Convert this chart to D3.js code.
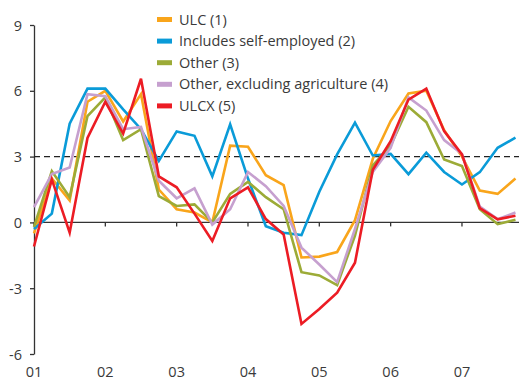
<!DOCTYPE html>
<html>
<head>
<meta charset="utf-8">
<script src="https://cdn.jsdelivr.net/npm/d3@7"></script>
<style>
  html, body { margin: 0; padding: 0; background: #fff; }
  svg { display: block; }
  text { font-family: "Open Sans", "Noto Sans", sans-serif; fill: #3a3a3a; }
</style>
</head>
<body>
<svg id="chart" width="519" height="381"></svg>
<script>
// Quarterly wage-cost growth, 2001Q1 - 2007Q4 (per cent)
const quarters = d3.range(28).map(i => 2001 + i / 4);
const yearTicks = [2001, 2002, 2003, 2004, 2005, 2006, 2007];
const yearLabels = ["01", "02", "03", "04", "05", "06", "07"];
const yTicks = [-6, -3, 0, 3, 6, 9];
const yTickLabels = ["-6", "-3", "0", "3", "6", "9"];

const seriesNames = ["ULC (1)", "Includes self-employed (2)", "Other (3)", "Other, excluding agriculture (4)", "ULCX (5)"];
const seriesColors = ["#F9A51B", "#0A9BD8", "#9CAB37", "#C6A0CF", "#EC1C24"];

const ulc = [-0.5, 2.0, 1.0, 5.5, 6.0, 4.6, 5.85, 1.5, 0.6, 0.45, 0.0, 3.5, 3.45, 2.15, 1.7, -1.6, -1.56, -1.35, 0.1, 2.9, 4.62, 5.88, 6.0, 4.2, 3.0, 1.45, 1.3, 2.0];
const selfEmployed = [-0.3, 0.4, 4.5, 6.1, 6.1, 5.15, 4.25, 2.8, 4.15, 3.95, 2.1, 4.47, 2.0, -0.17, -0.47, -0.58, 1.4, 3.1, 4.55, 3.05, 3.12, 2.2, 3.18, 2.3, 1.73, 2.29, 3.4, 3.86];
const other = [-0.2, 2.34, 1.15, 4.85, 5.7, 3.75, 4.25, 1.2, 0.75, 0.82, 0.0, 1.3, 1.85, 1.15, 0.6, -2.27, -2.42, -2.86, -0.6, 2.6, 3.5, 5.27, 4.57, 2.87, 2.57, 0.6, -0.08, 0.12];
const otherExAgri = [0.7, 2.2, 2.5, 5.85, 5.75, 4.25, 4.35, 1.9, 1.1, 1.55, -0.1, 0.6, 2.3, 1.65, 0.75, -1.15, -1.92, -2.72, -0.3, 2.3, 3.4, 5.7, 5.1, 3.75, 3.12, 0.72, 0.15, 0.45];
const ulcx = [-1.1, 1.96, -0.47, 3.85, 5.5, 4.05, 6.55, 2.1, 1.6, 0.4, -0.85, 1.1, 1.6, 0.15, -0.55, -4.63, -3.95, -3.2, -1.84, 2.4, 3.7, 5.6, 6.1, 4.16, 3.1, 0.65, 0.14, 0.3];

const seriesValues = [ulc, selfEmployed, other, otherExAgri, ulcx];

const W = 519, H = 381;
const svg = d3.select("#chart");

const x = d3.scaleLinear().domain([2001, 2008]).range([34, 533.3]);
const y = d3.scaleLinear().domain([-6, 9]).range([354, 25]);

// Y axis with outward ticks
const yAxis = svg.append("g")
  .attr("transform", `translate(${x(2001)},0)`)
  .call(d3.axisLeft(y).tickValues(yTicks).tickSize(4).tickSizeOuter(0)
    .tickFormat((d, i) => yTickLabels[i]));
yAxis.select(".domain").attr("stroke", "#333").attr("stroke-width", 1.3);
yAxis.selectAll(".tick line").attr("stroke", "#333").attr("stroke-width", 1.3);
yAxis.selectAll(".tick text")
  .attr("x", -12).attr("dy", "0.35em")
  .style("font-size", "14.5px").style("font-family", "'Open Sans', sans-serif").attr("fill", "#3a3a3a");

// Dashed reference line at 3
svg.append("line")
  .attr("x1", x(2001)).attr("x2", W)
  .attr("y1", y(3)).attr("y2", y(3))
  .attr("stroke", "#222").attr("stroke-width", 1.2)
  .attr("stroke-dasharray", "6,4");

// Zero line
svg.append("line")
  .attr("x1", x(2001)).attr("x2", W)
  .attr("y1", y(0)).attr("y2", y(0))
  .attr("stroke", "#333").attr("stroke-width", 1.3);

// Year ticks on zero line
svg.selectAll(".xtick").data(yearTicks).enter().append("line")
  .attr("class", "xtick")
  .attr("x1", d => x(d)).attr("x2", d => x(d))
  .attr("y1", y(0)).attr("y2", y(0) + 4)
  .attr("stroke", "#333").attr("stroke-width", 1.3);

// Year labels along the bottom
svg.selectAll(".xlabel").data(yearTicks).enter().append("text")
  .attr("class", "xlabel")
  .attr("x", d => x(d)).attr("y", 377)
  .attr("text-anchor", "middle")
  .style("font-size", "14.5px")
  .text((d, i) => yearLabels[i]);

// Series lines
const line = d3.line().x((d, i) => x(quarters[i])).y(d => y(d));
seriesValues.forEach((vals, k) => {
  svg.append("path")
    .datum(vals)
    .attr("fill", "none")
    .attr("stroke", seriesColors[k])
    .attr("stroke-width", 2.6)
    .attr("stroke-linejoin", "miter")
    .attr("d", line);
});

// Legend
const legend = svg.append("g").attr("transform", "translate(157,19.5)");
seriesNames.forEach((name, k) => {
  const g = legend.append("g").attr("transform", `translate(0,${k * 21.6})`);
  g.append("line").attr("x1", 0).attr("x2", 15).attr("y1", 0).attr("y2", 0)
    .attr("stroke", seriesColors[k]).attr("stroke-width", 5);
  g.append("text").attr("x", 22).attr("y", 0).attr("dy", "0.35em")
    .style("font-size", "14.5px").text(name);
});
</script>
</body>
</html>
